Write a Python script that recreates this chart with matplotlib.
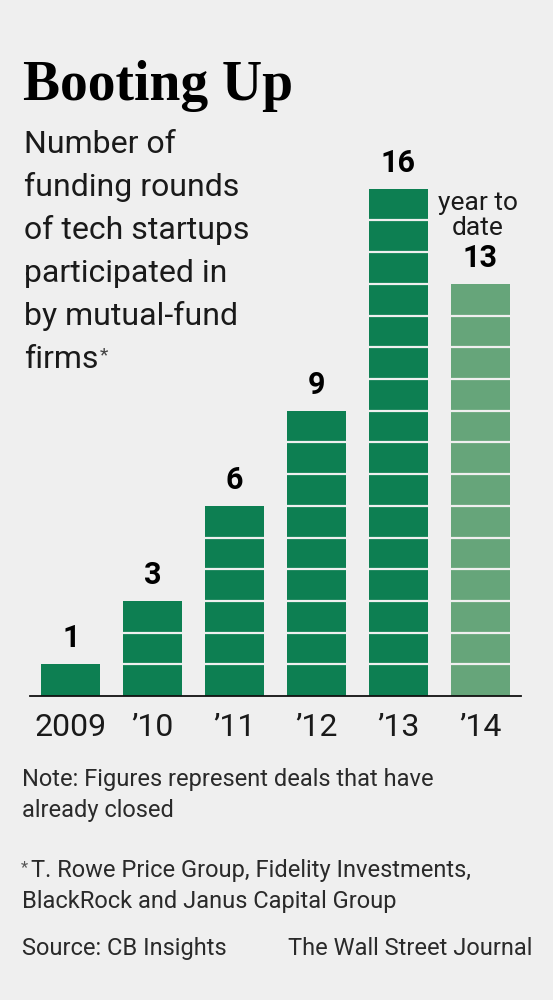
import matplotlib.pyplot as plt

# data
years = ['2009', '\u201910', '\u201911', '\u201912', '\u201913', '\u201914']
rounds = [1, 3, 6, 9, 16, 13]
partial = [False, False, False, False, False, True]   # 2014 is year to date

title = 'Booting Up'
subtitle = ['Number of', 'funding rounds', 'of tech startups',
            'participated in', 'by mutual-fund', 'firms']
notes = ['Note: Figures represent deals that have', 'already closed',
         'T. Rowe Price Group, Fidelity Investments,',
         'BlackRock and Janus Capital Group']
source = 'Source: CB Insights'
credit = 'The Wall Street Journal'

bg = '#efefef'
dark = '#0d7f52'
light = '#66a57a'
ink = '#1a1a1a'

W, H = 553, 1000
fig = plt.figure(figsize=(W / 100, H / 100), dpi=100, facecolor=bg)
renderer = fig.canvas.get_renderer()

def px(x, y):
    # pixel coords (from top left) -> figure fraction
    return x / W, 1 - y / H

def star_after(t, size, rise):
    # small raised asterisk right after a text object
    bb = t.get_window_extent(renderer)
    fig.text(bb.x1 / W + 0.002, bb.y0 / H + rise / H, '*', fontsize=size,
             family='Roboto', color='#444444', va='baseline')

# plot area: baseline at y=696, x from 30 to 521
ax = fig.add_axes([30 / W, 1 - 696 / H, 491 / W, 634 / H])
ax.set_facecolor(bg)
ax.set_xlim(-0.5, len(rounds) - 0.5)
ax.set_ylim(0, 20)

x = range(len(rounds))
colors = [light if p else dark for p in partial]
ax.bar(x, rounds, width=0.72, color=colors, zorder=2)

# unit separators
for i, v in enumerate(rounds):
    for k in range(1, v):
        ax.hlines(k, i - 0.36, i + 0.36, color=bg, lw=1.6, zorder=3)
    ax.annotate(str(v), (i, v), xytext=(0, 8), textcoords='offset points',
                ha='center', va='bottom', fontsize=22, fontweight='bold',
                family='Roboto', color='black')

ax.text(4.97, 14.4, 'year to\ndate', ha='center', va='bottom',
        fontsize=19, family='Roboto', color=ink, linespacing=1.05)

for s in ['top', 'right', 'left']:
    ax.spines[s].set_visible(False)
ax.spines['bottom'].set_linewidth(1.3)
ax.spines['bottom'].set_color('#111111')
ax.set_yticks([])
ax.set_xticks(list(x))
ax.set_xticklabels(years, fontsize=23, family='Roboto', color=ink)
ax.tick_params(axis='x', length=0, pad=12)

# title and subtitle
fig.text(*px(23, 100), title, fontsize=40, fontweight='bold',
         family='Liberation Serif', color='black', va='baseline')
for j, line in enumerate(subtitle):
    t = fig.text(*px(24, 153 + 43 * j), line, fontsize=23, family='Roboto',
                 color=ink, va='baseline')
star_after(t, 14, 14)

# footnotes
note_y = [786, 817, 877, 908]
for j, (line, y) in enumerate(zip(notes, note_y)):
    xs = 31 if j == 2 else 22
    fig.text(*px(xs, y), line, fontsize=17, family='Roboto', color='#2a2a2a',
             va='baseline')
fig.text(*px(21, 877 - 5), '*', fontsize=12, family='Roboto',
         color='#555555', va='baseline')
fig.text(*px(22, 955), source, fontsize=17, family='Roboto', color='#2a2a2a',
         va='baseline')
fig.text(*px(532, 955), credit, fontsize=17, family='Roboto',
         color='#2a2a2a', va='baseline', ha='right')

fig.savefig('out.png', dpi=100, facecolor=bg)
